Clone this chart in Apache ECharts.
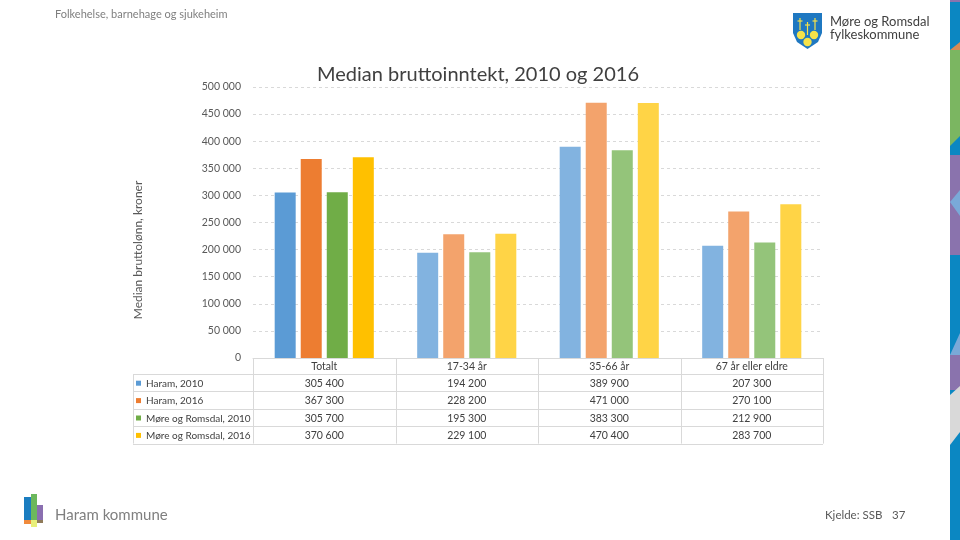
<!DOCTYPE html>
<html>
<head>
<meta charset="utf-8">
<script src="https://cdn.jsdelivr.net/npm/echarts@6/dist/echarts.min.js"></script>
<style>html,body{margin:0;padding:0;background:#fff}#c{width:960px;height:540px}</style>
</head>
<body>
<div id="c"></div>
<script>
const categories = ['Totalt', '17-34 år', '35-66 år', '67 år eller eldre'];
const seriesNames = ['Haram, 2010', 'Haram, 2016', 'Møre og Romsdal, 2010', 'Møre og Romsdal, 2016'];
const haram2010 = [305400, 194200, 389900, 207300];
const haram2016 = [367300, 228200, 471000, 270100];
const mr2010 = [305700, 195300, 383300, 212900];
const mr2016 = [370600, 229100, 470400, 283700];
const yTicks = [0, 50000, 100000, 150000, 200000, 250000, 300000, 350000, 400000, 450000, 500000];

const seriesValues = [haram2010, haram2016, mr2010, mr2016];
const strongColors = ['#5b9bd5', '#ed7d31', '#70ad47', '#ffc000'];
const lightColors = ['#82b3e0', '#f3a36c', '#94c47a', '#ffd446'];
const FONT = 'Lato';
const fmt = v => String(v).replace(/\B(?=(\d{3})+(?!\d))/g, ' ');

const G = {left: 253, right: 823, top: 87, bottom: 358};
const rowH = 17.4;
const tableTop = 358, headerBottom = 374;

const chart = echarts.init(document.getElementById('c'));

const series = seriesValues.map((vals, si) => ({
  name: seriesNames[si],
  type: 'bar',
  barWidth: 21,
  barGap: '24%',
  barCategoryGap: '30%',
  data: vals.map((v, ci) => ({value: v, itemStyle: {color: ci === 0 ? strongColors[si] : lightColors[si]}}))
}));

const graphics = [];
const colX = [G.left];
for (let i = 1; i <= categories.length; i++) colX.push(G.left + (G.right - G.left) * i / categories.length);
const lineStyle = {stroke: '#d9d9d9', lineWidth: 1};
graphics.push({type: 'line', shape: {x1: G.left, y1: tableTop + 0.5, x2: G.right, y2: tableTop + 0.5}, style: lineStyle, silent: true});
const rowYs = [headerBottom];
for (let r = 1; r <= seriesNames.length; r++) rowYs.push(headerBottom + rowH * r);
rowYs.forEach(y => graphics.push({type: 'line', shape: {x1: 133, y1: Math.round(y) + 0.5, x2: G.right, y2: Math.round(y) + 0.5}, style: lineStyle, silent: true}));
colX.forEach(x => graphics.push({type: 'line', shape: {x1: Math.round(x) + 0.5, y1: tableTop, x2: Math.round(x) + 0.5, y2: rowYs[rowYs.length - 1]}, style: lineStyle, silent: true}));
graphics.push({type: 'line', shape: {x1: 133.5, y1: headerBottom, x2: 133.5, y2: rowYs[rowYs.length - 1]}, style: lineStyle, silent: true});
categories.forEach((c, i) => graphics.push({type: 'text', x: (colX[i] + colX[i + 1]) / 2, y: (tableTop + headerBottom) / 2 + 1,
  style: {text: c, fill: '#404040', font: '10.5px ' + FONT, align: 'center', verticalAlign: 'middle'}}));
seriesNames.forEach((n, si) => {
  const yc = headerBottom + rowH * si + rowH / 2 + 1;
  graphics.push({type: 'rect', shape: {x: 136, y: yc - 3, width: 5, height: 5}, style: {fill: strongColors[si]}});
  graphics.push({type: 'text', x: 146, y: yc, style: {text: n, fill: '#404040', font: '10px ' + FONT, verticalAlign: 'middle'}});
  seriesValues[si].forEach((v, ci) => graphics.push({type: 'text', x: (colX[ci] + colX[ci + 1]) / 2, y: yc,
    style: {text: fmt(v), fill: '#404040', font: '10.5px ' + FONT, align: 'center', verticalAlign: 'middle'}}));
});
graphics.push({type: 'text', x: 138, y: 250, rotation: Math.PI / 2,
  style: {text: 'Median bruttolønn, kroner', fill: '#595959', font: '12px ' + FONT, align: 'center', verticalAlign: 'middle'}});
graphics.push({type: 'text', x: 55, y: 14, style: {text: 'Folkehelse, barnehage og sjukeheim', fill: '#7f7f7f', font: '11px ' + FONT, verticalAlign: 'middle'}});
graphics.push({type: 'polygon', shape: {points: [[793, 13], [822, 13], [822, 33], [818, 42], [807.5, 49], [797, 42], [793, 33]]}, style: {fill: '#1f78c1'}});
[[801, 35], [814, 35], [807.5, 42]].forEach(p => graphics.push({type: 'circle', shape: {cx: p[0], cy: p[1], r: 4.2}, style: {fill: '#f5e24a'}}));
[[800, 18, 30], [807.5, 22, 35], [815, 18, 30]].forEach(p => {
  graphics.push({type: 'line', shape: {x1: p[0], y1: p[1], x2: p[0], y2: p[2]}, style: {stroke: '#f5e24a', lineWidth: 1.2}});
  graphics.push({type: 'line', shape: {x1: p[0] - 2.5, y1: p[1] + 3, x2: p[0] + 2.5, y2: p[1] + 3}, style: {stroke: '#f5e24a', lineWidth: 1.2}});
});
graphics.push({type: 'text', x: 830, y: 22, style: {text: 'Møre og Romsdal', fill: '#404040', font: '13px ' + FONT, verticalAlign: 'middle'}});
graphics.push({type: 'text', x: 830, y: 35, style: {text: 'fylkeskommune', fill: '#404040', font: '13px ' + FONT, verticalAlign: 'middle'}});
graphics.push({type: 'rect', shape: {x: 24, y: 497, width: 7, height: 23}, style: {fill: '#1a7dc0'}});
graphics.push({type: 'rect', shape: {x: 31, y: 494, width: 6, height: 26}, style: {fill: '#6cb85c'}});
graphics.push({type: 'rect', shape: {x: 37, y: 505, width: 6, height: 15}, style: {fill: '#8a6fb0'}});
graphics.push({type: 'rect', shape: {x: 24, y: 520, width: 7, height: 4}, style: {fill: '#f08a3c'}});
graphics.push({type: 'rect', shape: {x: 31, y: 520, width: 6, height: 7}, style: {fill: '#e8ef7a'}});
graphics.push({type: 'rect', shape: {x: 37, y: 520, width: 6, height: 3}, style: {fill: '#8f7a5a'}});
graphics.push({type: 'text', x: 55, y: 515, style: {text: 'Haram kommune', fill: '#7f7f7f', font: '15px ' + FONT, verticalAlign: 'middle'}});
graphics.push({type: 'text', x: 825, y: 515, style: {text: 'Kjelde: SSB', fill: '#595959', font: '11.5px ' + FONT, verticalAlign: 'middle'}});
graphics.push({type: 'text', x: 892, y: 515, style: {text: '37', fill: '#595959', font: '11.5px ' + FONT, verticalAlign: 'middle'}});
const BL = '#0b87c2', PU = '#8a73ad', GR = '#7bb661', LB = '#7aa9d8', OR = '#d98a55', GY = '#d9d9d9';
graphics.push({type: 'rect', shape: {x: 950, y: 0, width: 10, height: 540}, style: {fill: BL}});
graphics.push({type: 'rect', shape: {x: 950, y: 0, width: 10, height: 2}, style: {fill: PU}});
graphics.push({type: 'polygon', shape: {points: [[950, 50], [960, 42], [960, 50]]}, style: {fill: OR}});
graphics.push({type: 'polygon', shape: {points: [[950, 50], [960, 50], [960, 136], [950, 146]]}, style: {fill: GR}});
graphics.push({type: 'rect', shape: {x: 950, y: 155, width: 10, height: 100}, style: {fill: PU}});
graphics.push({type: 'polygon', shape: {points: [[950, 202], [960, 190], [960, 216]]}, style: {fill: LB}});
graphics.push({type: 'polygon', shape: {points: [[950, 355], [960, 333], [960, 355]]}, style: {fill: LB}});
graphics.push({type: 'rect', shape: {x: 950, y: 355, width: 10, height: 35}, style: {fill: PU}});
graphics.push({type: 'polygon', shape: {points: [[950, 395], [960, 386], [960, 432], [950, 445]]}, style: {fill: GY}});

chart.setOption({
  animation: false,
  textStyle: {fontFamily: FONT},
  title: {text: 'Median bruttoinntekt, 2010 og 2016', left: 473, textAlign: 'center', top: 60,
    textStyle: {fontFamily: FONT, fontSize: 20, fontWeight: 'normal', color: '#404040'}},
  grid: {left: G.left, right: 960 - G.right, top: G.top, bottom: 540 - G.bottom, containLabel: false},
  xAxis: {type: 'category', data: categories, axisLabel: {show: false}, axisTick: {show: false},
    axisLine: {lineStyle: {color: '#d9d9d9'}}},
  yAxis: {type: 'value', min: yTicks[0], max: yTicks[yTicks.length - 1], interval: yTicks[1] - yTicks[0],
    axisLabel: {formatter: v => fmt(v), color: '#595959', fontSize: 10.5, fontFamily: FONT, margin: 12},
    axisLine: {show: false}, axisTick: {show: false},
    splitLine: {lineStyle: {color: '#d9d9d9', type: [3, 3]}}},
  series: series,
  graphic: {elements: graphics}
});
</script>
</body>
</html>
